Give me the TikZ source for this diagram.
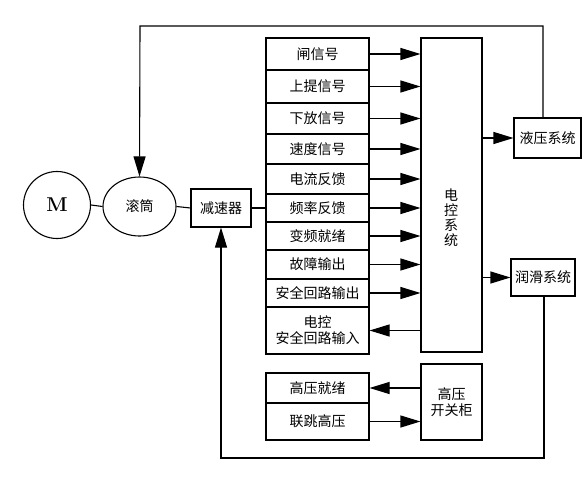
\documentclass[tikz,border=0pt]{standalone}
\usepackage{fontspec}
\newfontfamily\cjk{Noto Sans CJK SC}
\usepackage{tikz}
\usetikzlibrary{arrows.meta,shapes.geometric}
\begin{document}
\begin{tikzpicture}[x=1pt,y=-1pt,line width=1.1pt,
                 box/.style={draw,inner sep=0pt,font=\cjk\fontsize{14}{16}\selectfont,align=center},
                 sigbox/.style={box,minimum width=103pt},
                 arr/.style={-{Triangle[length=20pt,width=12pt]}}]
                 \useasboundingbox(0,0)rectangle(588,481);
                 \node[draw,circle,minimum size=67pt,inner sep=0pt,font=\bfseries\fontsize{20}{20}\selectfont](motor)at(57,205){M};
                 \node[draw,ellipse,minimum width=73pt,minimum height=59pt,inner sep=0pt,font=\cjk\fontsize{14}{16}\selectfont](drum)at(139.5,206.5){滚筒};
                 \node[box,minimum width=60pt,minimum height=38pt](reducer)at(221,208){减速器};
                 \node[sigbox,minimum height=32pt](zha)at(317.5,54){闸信号};
                 \node[sigbox,minimum height=33pt](shangti)at(317.5,86.5){上提信号};
                 \node[sigbox,minimum height=31pt](xiafang)at(317.5,118.5){下放信号};
                 \node[sigbox,minimum height=30pt](sudu)at(317.5,149){速度信号};
                 \node[sigbox,minimum height=30pt](dianliu)at(317.5,179){电流反馈};
                 \node[sigbox,minimum height=28pt](pinlv)at(317.5,208){频率反馈};
                 \node[sigbox,minimum height=28pt](bianpin)at(317.5,236){变频就绪};
                 \node[sigbox,minimum height=29pt](guzhang)at(317.5,264.5){故障输出};
                 \node[sigbox,minimum height=28pt](aqout)at(317.5,293){安全回路输出};
                 \node[sigbox,minimum height=47pt](aqin)at(317.5,330.5){电控\\安全回路输入};
                 \node[box,minimum width=61pt,minimum height=314pt](ctrl)at(451.5,195){};
                 \node[font=\cjk\fontsize{14}{15}\selectfont,align=center,inner sep=0pt](ctrltxt)at(451,218){电\\控\\系\\统};
                 \node[box,minimum width=67pt,minimum height=40pt](hyd)at(547.5,138){液压系统};
                 \node[box,minimum width=64pt,minimum height=37pt](lube)at(543,277.5){润滑系统};
                 \node[sigbox,minimum height=30pt](gyjx)at(317.5,388){高压就绪};
                 \node[sigbox,minimum height=37pt](liantiao)at(317.5,421.5){联跳高压};
                 \node[box,minimum width=61pt,minimum height=76pt](hv)at(451.5,402){高压\\开关柜};
                 \coordinate(tl)at(140,26);
                 \coordinate(tr)at(543,26);
                 \coordinate(bl)at(221,458);
                 \coordinate(br)at(544,458);
                 \draw(motor.east)--(drum.west);
                 \draw(drum.east)--(reducer.west);
                 \draw(reducer.east)--(reducer.east-|pinlv.west);
                 \draw[arr](zha.east)--(zha.east-|ctrl.west);
                 \draw[arr](shangti.east)--(shangti.east-|ctrl.west);
                 \draw[arr](xiafang.east)--(xiafang.east-|ctrl.west);
                 \draw[arr](sudu.east)--(sudu.east-|ctrl.west);
                 \draw[arr](dianliu.east)--(dianliu.east-|ctrl.west);
                 \draw[arr](pinlv.east)--(pinlv.east-|ctrl.west);
                 \draw[arr](bianpin.east)--(bianpin.east-|ctrl.west);
                 \draw[arr](guzhang.east)--(guzhang.east-|ctrl.west);
                 \draw[arr](aqout.east)--(aqout.east-|ctrl.west);
                 \draw[arr](aqin.east-|ctrl.west)--(aqin.east);
                 \draw[arr](gyjx.east-|hv.west)--(gyjx.east);
                 \draw[arr](liantiao.east)--(liantiao.east-|hv.west);
                 \draw[arr](ctrl.east|-hyd.west)--(hyd.west);
                 \draw[arr](ctrl.east|-lube.west)--(lube.west);
                 \draw[arr](hyd.north-|tr)--(tr)--(tl)--(drum.north);
                 \draw[arr](lube.south-|br)--(br)--(bl)--(reducer.south);
               \end{tikzpicture}
\end{document}
